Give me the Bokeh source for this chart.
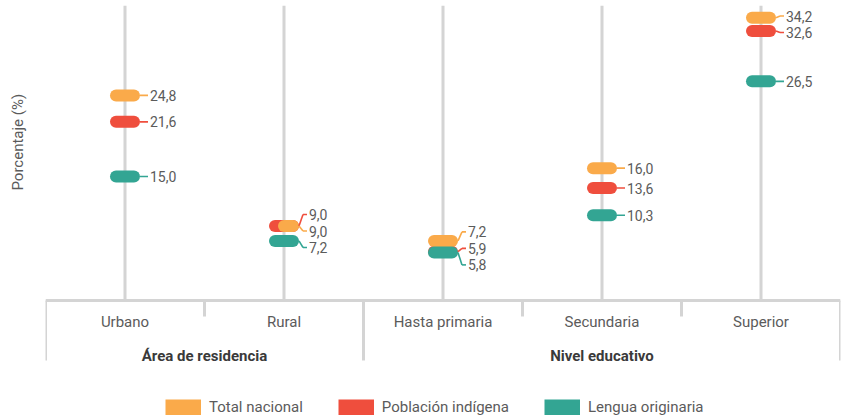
from bokeh.plotting import figure
from bokeh.models import FactorRange, Range1d, ColumnDataSource, Legend, LegendItem, Title, FixedTicker
from bokeh.core.properties import value
from bokeh.embed import file_html
from bokeh.resources import INLINE

# ---------------- data ----------------
groups = ["Área de residencia", "Área de residencia", "Nivel educativo", "Nivel educativo", "Nivel educativo"]
categories = ["Urbano", "Rural", "Hasta primaria", "Secundaria", "Superior"]
series_names = ["Total nacional", "Población indígena", "Lengua originaria"]
total_nacional = [24.8, 9.0, 7.2, 16.0, 34.2]
poblacion_indigena = [21.6, 9.0, 5.9, 13.6, 32.6]
lengua_originaria = [15.0, 7.2, 5.8, 10.3, 26.5]
y_axis_title = "Porcentaje (%)"

# ---------------- style ----------------
COLORS = ["#FAAA4A", "#EF4E3D", "#33A593"]
GREY = "#D4D4D4"
TXT = "#5B5B5B"
FONT = "Roboto"

W, H = 841, 420
LEFT, RIGHT, TOP = 45, 1, 5
FW, FH = W - LEFT - RIGHT, H - TOP
Y_MAX = 35.67
Y_MIN = Y_MAX - FH / 8.27
ky = FH / (Y_MAX - Y_MIN)          # px per y unit
kx = FW / len(categories)          # px per category

factors = list(zip(groups, categories))
series_vals = [total_nacional, poblacion_indigena, lengua_originaria]
DRAW_ORDER = [1, 0, 2]             # red below orange below green

p = figure(width=W, height=H,
           x_range=FactorRange(*factors, factor_padding=0, group_padding=0, range_padding=0),
           y_range=Range1d(Y_MIN, Y_MAX),
           output_backend="svg", toolbar_location=None,
           min_border_left=LEFT, min_border_right=RIGHT, min_border_top=TOP, min_border_bottom=0)
p.outline_line_color = None
p.xgrid.grid_line_color = None
p.ygrid.grid_line_color = None

# y axis kept only as an invisible spacer between the frame and the y title
ya = p.yaxis[0]
ya.ticker = FixedTicker(ticks=[0])
ya.axis_line_color = None
ya.major_tick_line_color = None
ya.minor_tick_line_color = None
ya.major_tick_in = 0
ya.major_tick_out = 14
ya.minor_tick_out = 0
ya.major_label_standoff = 0
ya.major_label_text_font_size = "1px"
ya.major_label_text_alpha = 0
ya.major_label_overrides = {0: ""}

# vertical category lines
p.segment(x0=factors, x1=factors, y0=[0] * len(factors), y1=[Y_MAX] * len(factors),
          line_color=GREY, line_width=3)

# separators below the axis
sx, sy1 = [], []
for j, f in enumerate(factors):
    long_sep = (j == 0) or (groups[j] != groups[j - 1])
    sx.append((f[0], f[1], -0.5))
    sy1.append(-(60 if long_sep else 16) / ky)
sx.append((factors[-1][0], factors[-1][1], 0.5))
sy1.append(-60 / ky)
p.segment(x0=sx, x1=sx, y0=[0] * len(sx), y1=sy1, line_color=GREY, line_width=3)

# label positions (spread apart where they collide)
GAP = 16.5
label_y = [[None] * len(categories) for _ in series_vals]
for j in range(len(categories)):
    items = sorted(DRAW_ORDER, key=lambda s: -series_vals[s][j])
    clusters = []
    for s in items:
        clusters.append([s])
        while len(clusters) > 1:
            a, b = clusters[-2], clusters[-1]
            ca = sum(series_vals[s2][j] for s2 in a) / len(a) * ky
            cb = sum(series_vals[s2][j] for s2 in b) / len(b) * ky
            a_bot = ca - (len(a) - 1) * GAP / 2
            b_top = cb + (len(b) - 1) * GAP / 2
            if a_bot - b_top < GAP:
                clusters[-2:] = [a + b]
            else:
                break
    for c in clusters:
        cen = sum(series_vals[s2][j] for s2 in c) / len(c) * ky
        top = cen + (len(c) - 1) * GAP / 2
        for i, s2 in enumerate(c):
            label_y[s2][j] = (top - i * GAP) / ky

pill_src = {}
for s in DRAW_ORDER:
    vals = series_vals[s]
    x0, x1 = [], []
    earlier = DRAW_ORDER[:DRAW_ORDER.index(s)]
    for j, f in enumerate(factors):
        tie = any(series_vals[e][j] == vals[j] for e in earlier)
        x0.append((f[0], f[1], (0 if tie else -9) / kx))
        x1.append((f[0], f[1], 9 / kx))
    pill_src[s] = ColumnDataSource(dict(x0=x0, x1=x1, y=vals))
    p.segment(x0="x0", x1="x1", y0="y", y1="y", source=pill_src[s],
              line_color=COLORS[s], line_width=12, line_cap="round")

for s in DRAW_ORDER:
    vals = series_vals[s]
    la = dict(xa=[], xb=[], xc=[], yv=[], yl=[], xt=[], txt=[])
    for j, f in enumerate(factors):
        la["xa"].append((f[0], f[1], 15 / kx))
        la["xb"].append((f[0], f[1], 19 / kx))
        la["xc"].append((f[0], f[1], 23 / kx))
        la["xt"].append((f[0], f[1], 25 / kx))
        la["yv"].append(vals[j])
        la["yl"].append(label_y[s][j])
        la["txt"].append(f"{vals[j]:.1f}".replace(".", ","))
    src = ColumnDataSource(la)
    p.segment(x0="xa", x1="xb", y0="yv", y1="yl", source=src, line_color=COLORS[s], line_width=1.6)
    p.segment(x0="xb", x1="xc", y0="yl", y1="yl", source=src, line_color=COLORS[s], line_width=1.6)
    p.text(x="xt", y="yl", text="txt", source=src, text_align="left", text_baseline="middle",
           text_font=value(FONT), text_font_size="14px", text_color=TXT)

# category axis through y = 0
ax = p.xaxis[0]
ax.fixed_location = 0
ax.axis_line_color = GREY
ax.axis_line_width = 3
ax.major_tick_line_color = None
ax.minor_tick_line_color = None
ax.major_tick_out = 0
ax.major_tick_in = 0
ax.separator_line_color = None
ax.major_label_standoff = 13
ax.major_label_text_font = FONT
ax.major_label_text_font_size = "15px"
ax.major_label_text_color = TXT
ax.group_text_font = FONT
ax.group_text_font_size = "15px"
ax.group_text_font_style = "bold"
ax.group_text_color = "#3A3A3A"
ax.group_label_orientation = "horizontal"

# y title
p.add_layout(Title(text=y_axis_title, align="left", offset=230, standoff=10,
                   text_font=FONT, text_font_size="15px", text_font_style="normal",
                   text_color=TXT), "left")

# legend (proxy renderers, hidden)
leg_r = []
for s in range(3):
    r = p.segment(x0="x0", x1="x1", y0="y", y1="y", source=pill_src[s], line_color=COLORS[s],
                  line_width=16, line_cap="butt")
    r.visible = False
    leg_r.append(r)
legend = Legend(items=[LegendItem(label=series_names[s], renderers=[leg_r[s]]) for s in range(3)],
                location=(120, 4), orientation="horizontal", glyph_width=36, glyph_height=16,
                label_standoff=8, spacing=35, padding=0, margin=0,
                border_line_color=None, background_fill_alpha=0,
                inactive_fill_alpha=0,
                label_text_font=FONT, label_text_font_size="15px", label_text_color=TXT)
p.add_layout(legend)

open("out.html", "w").write(file_html(p, INLINE))
